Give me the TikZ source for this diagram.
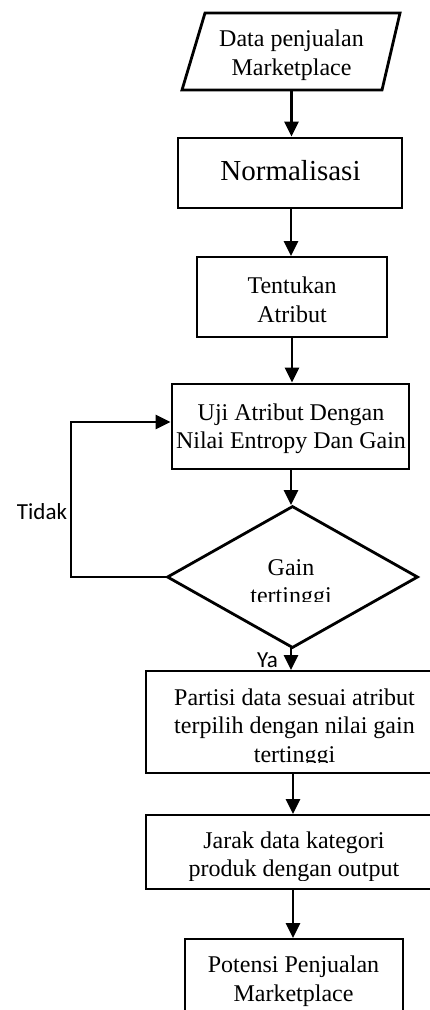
\documentclass[tikz,border=0pt]{standalone}
\usepackage{fontspec}
\setmainfont{Liberation Serif}
\newfontfamily\labelfont{Carlito}
\usetikzlibrary{arrows.meta,shapes.geometric}

\begin{document}
\begin{tikzpicture}[x=1pt,y=-1pt,
  line width=2.8pt,
  flow/.style={-{Triangle[length=15pt,width=14pt]}},
  box/.style={draw, rectangle, inner sep=0pt},
  txt/.style={align=center, inner sep=0pt, font=\fontsize{24}{28.5}\selectfont},
  tag/.style={inner sep=0pt, font=\labelfont\fontsize{23}{27}\selectfont},
]
\useasboundingbox (0,0) rectangle (429,1010);

% input: parallelogram
\draw (182,90) -- (205,13) -- (400,13) -- (382,90) -- cycle;
\node[inner sep=0pt, minimum width=190pt, minimum height=77pt] (in) at (291.5,51.5) {};
\node[txt] (intxt) at (291.5,55) {Data penjualan\\Marketplace};

% process boxes
\node[box, minimum width=224pt, minimum height=70pt] (norm) at (290,173) {};
\node[txt, font=\fontsize{29}{34}\selectfont] (normtxt) at (290.5,171) {Normalisasi};

\node[box, minimum width=190pt, minimum height=80pt] (attr) at (292,297) {};
\node[txt] (attrtxt) at (292,300) {Tentukan\\Atribut};

\node[box, minimum width=237pt, minimum height=85pt] (test) at (290.5,426.5) {};
\node[txt] (testtxt) at (291,429) {Uji Atribut Dengan\\Nilai Entropy Dan Gain};

% decision
\node[draw, diamond, inner sep=0pt, minimum width=251pt, minimum height=142pt] (dec) at (292.5,577) {};
\begin{scope}
  \clip (170,540) rectangle (415,601);
  \node[txt] (dectxt) at (291,584) {Gain\\tertinggi};
\end{scope}

% partition box (runs past the right edge)
\node[box, minimum width=300pt, minimum height=102pt] (part) at (296,722) {};
\begin{scope}
  \clip (150,675) rectangle (429,762);
  \node[txt] (parttxt) at (294.5,728) {Partisi data sesuai atribut\\terpilih dengan nilai gain\\tertinggi};
\end{scope}

\node[box, minimum width=300pt, minimum height=74pt] (dist) at (296,852) {};
\begin{scope}
  \clip (150,818) rectangle (429,880);
  \node[txt] (disttxt) at (294,857) {Jarak data kategori\\produk dengan output};
\end{scope}

% output box (runs past the bottom edge)
\node[box, minimum width=218pt, minimum height=120pt] (out) at (294,999) {};
\node[txt] (outtxt) at (293.5,981) {Potensi Penjualan\\Marketplace};

% connectors
\draw[flow] (in.south) -- (in.south |- norm.north);
\draw[flow] (291,208) -- (291,256);
\draw[flow] (attr.south) -- (attr.south |- test.north);
\draw[flow] (291,469) -- (291,505);
\draw[flow] (291,648) -- (291,670);
\draw[flow] (293,773) -- (293,814);
\draw[flow] (293,889) -- (293,938);

% loop back when the gain is not the highest
\coordinate (lpa) at (71,577);
\coordinate (lpb) at (71,422);
\draw[flow] (dec.west) -- (lpa) -- (lpb) -- (lpb -| test.west);

% branch labels
\node[tag] (no) at (42,512) {Tidak};
\node[tag] (yes) at (267.5,660) {Ya};
\end{tikzpicture}
\end{document}
